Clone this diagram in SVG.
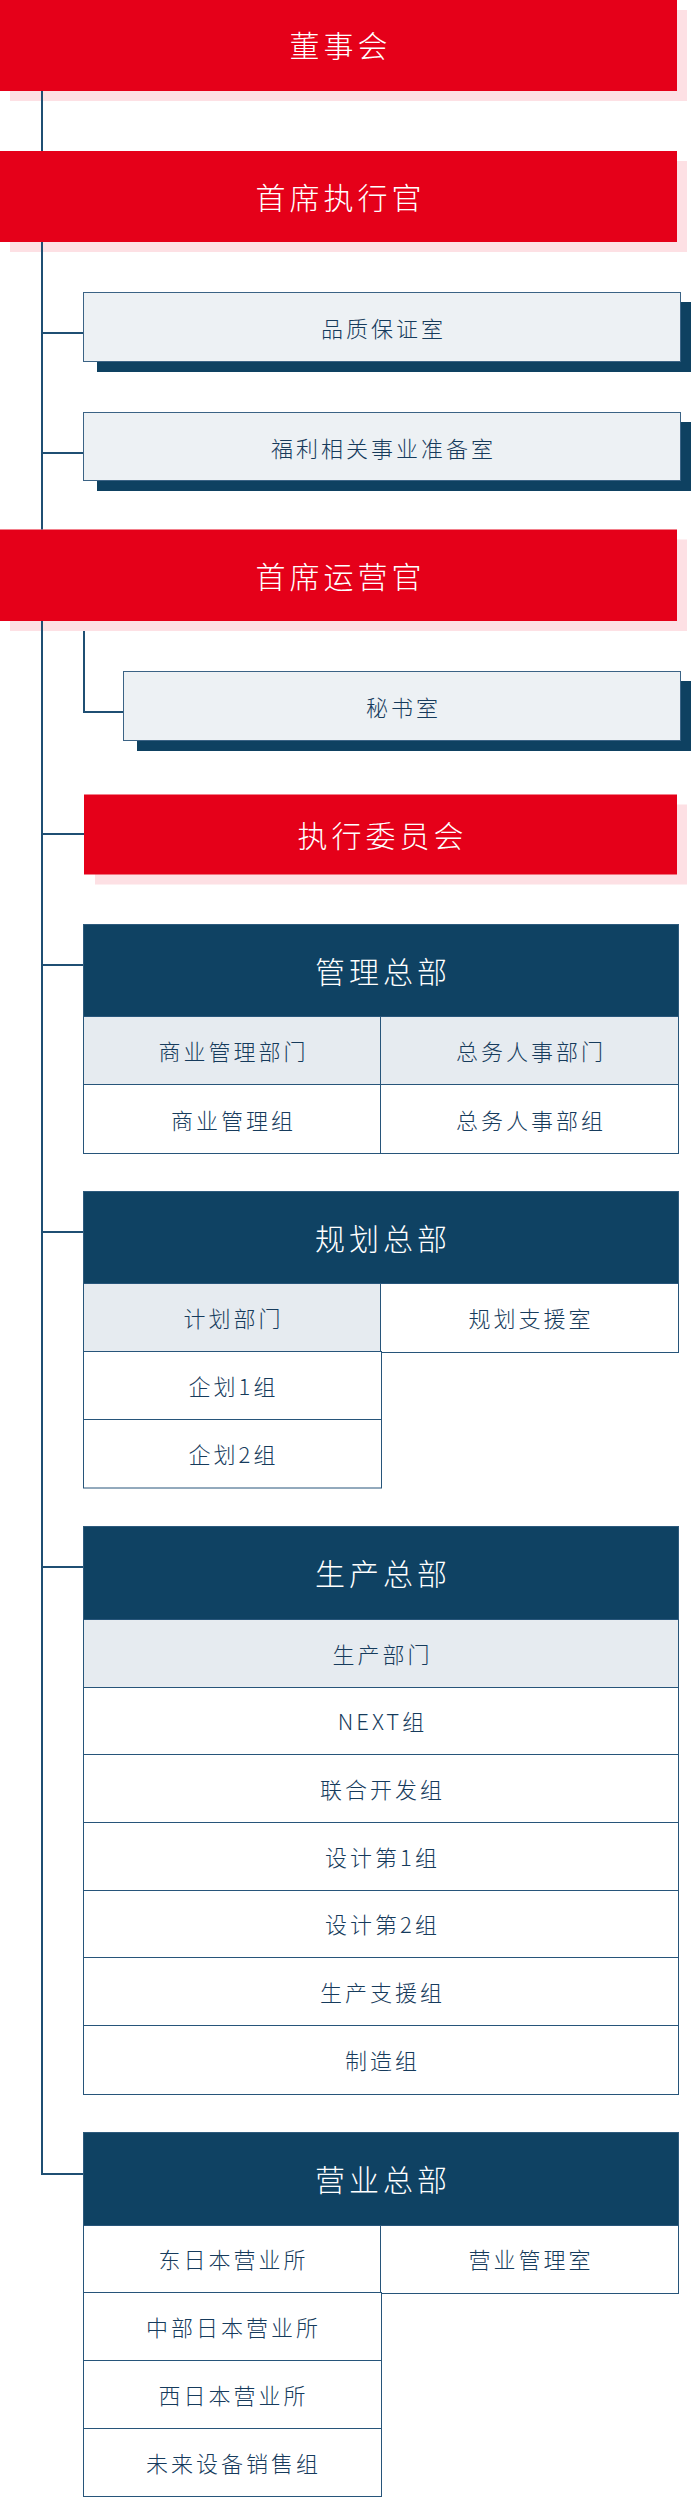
<svg xmlns="http://www.w3.org/2000/svg" width="700" height="2510" viewBox="0 0 700 2510">
<style>
.red{fill:#e50019}
.pink{fill:#fde0e4}
.gray{fill:#edf1f4;stroke:#3b6385;stroke-width:1}
.dk{fill:#0e4161}
.hd{fill:#0f4263;stroke:#2d5a7c;stroke-width:1}
.sub{fill:#e6ebf0;stroke:#27557a;stroke-width:1}
.cell{fill:#ffffff;stroke:#27557a;stroke-width:1}
.t{font-family:"Noto Sans CJK SC","Noto Sans",sans-serif;text-anchor:middle;dominant-baseline:central;font-weight:300}
.big{font-size:30px;letter-spacing:4px;fill:#ffffff}
.sm{font-size:22px;letter-spacing:3px;fill:#163b5c}
.ln{stroke:#1f4f73;stroke-width:2;fill:none}
</style>
<rect width="700" height="2510" fill="#ffffff"/>

<g id="board">
<rect class="pink" x="10" y="10" width="677" height="91"/>
<rect class="red" x="0" y="0" width="677" height="91"/>
<text class="t big" x="340.5" y="44">董事会</text>
</g>

<g id="ceo">
<rect class="pink" x="10" y="161" width="677" height="91"/>
<rect class="red" x="0" y="151" width="677" height="91"/>
<text class="t big" x="340.5" y="195.5">首席执行官</text>
</g>

<g id="qa">
<rect class="dk" x="97" y="302" width="594" height="70"/>
<rect class="gray" x="83.5" y="292.5" width="597" height="69"/>
<text class="t sm" x="383.5" y="327">品质保证室</text>
</g>

<g id="welfare">
<rect class="dk" x="97" y="422" width="594" height="69"/>
<rect class="gray" x="83.5" y="412.5" width="597" height="68"/>
<text class="t sm" x="383.5" y="446.5">福利相关事业准备室</text>
</g>

<g id="coo">
<rect class="pink" x="10" y="539.5" width="677" height="91.5"/>
<rect class="red" x="0" y="529.5" width="677" height="91.5"/>
<text class="t big" x="340.5" y="574.5">首席运营官</text>
</g>

<g id="secretary">
<rect class="dk" x="137" y="681" width="554" height="70"/>
<rect class="gray" x="123.5" y="671.5" width="557" height="69"/>
<text class="t sm" x="403.5" y="705.5">秘书室</text>
</g>

<g id="exec-committee">
<rect class="pink" x="95" y="804.5" width="592" height="80"/>
<rect class="red" x="84" y="794.5" width="593" height="80"/>
<text class="t big" x="382.5" y="833.5">执行委员会</text>
</g>

<g id="admin-hq">
<rect class="hd" x="83.5" y="924.5" width="595" height="92"/>
<text class="t big" x="383" y="969.5">管理总部</text>
<rect class="sub" x="83.5" y="1016.5" width="297" height="68"/>
<rect class="sub" x="380.5" y="1016.5" width="298" height="68"/>
<rect class="cell" x="83.5" y="1084.5" width="297" height="69"/>
<rect class="cell" x="380.5" y="1084.5" width="298" height="69"/>
<text class="t sm" x="233.5" y="1050">商业管理部门</text>
<text class="t sm" x="531" y="1050">总务人事部门</text>
<text class="t sm" x="233.5" y="1118.5">商业管理组</text>
<text class="t sm" x="531" y="1118.5">总务人事部组</text>
</g>

<g id="planning-hq">
<rect class="hd" x="83.5" y="1191.5" width="595" height="92"/>
<text class="t big" x="383" y="1236.5">规划总部</text>
<rect class="sub" x="83.5" y="1283.5" width="297" height="68"/>
<rect class="cell" x="380.5" y="1283.5" width="298" height="69"/>
<rect class="cell" x="83.5" y="1351.5" width="298" height="68"/>
<rect class="cell" x="83.5" y="1419.5" width="298" height="68.5"/>
<text class="t sm" x="233.5" y="1317">计划部门</text>
<text class="t sm" x="531" y="1317">规划支援室</text>
<text class="t sm" x="233.5" y="1385">企划1组</text>
<text class="t sm" x="233.5" y="1453">企划2组</text>
</g>

<g id="production-hq">
<rect class="hd" x="83.5" y="1526.5" width="595" height="93"/>
<text class="t big" x="383" y="1571.5">生产总部</text>
<rect class="sub" x="83.5" y="1619.5" width="595" height="68"/>
<rect class="cell" x="83.5" y="1687.5" width="595" height="67"/>
<rect class="cell" x="83.5" y="1754.5" width="595" height="68"/>
<rect class="cell" x="83.5" y="1822.5" width="595" height="68"/>
<rect class="cell" x="83.5" y="1890.5" width="595" height="67"/>
<rect class="cell" x="83.5" y="1957.5" width="595" height="68"/>
<rect class="cell" x="83.5" y="2025.5" width="595" height="69"/>
<text class="t sm" x="382.5" y="1652.5">生产部门</text>
<text class="t sm" x="382.5" y="1720">NEXT组</text>
<text class="t sm" x="382.5" y="1787.5">联合开发组</text>
<text class="t sm" x="382.5" y="1855.5">设计第1组</text>
<text class="t sm" x="382.5" y="1923">设计第2组</text>
<text class="t sm" x="382.5" y="1990.5">生产支援组</text>
<text class="t sm" x="382.5" y="2059">制造组</text>
</g>

<g id="sales-hq">
<rect class="hd" x="83.5" y="2132.5" width="595" height="93"/>
<text class="t big" x="383" y="2177.5">营业总部</text>
<rect class="cell" x="83.5" y="2225.5" width="297" height="67"/>
<rect class="cell" x="380.5" y="2225.5" width="298" height="68"/>
<rect class="cell" x="83.5" y="2292.5" width="298" height="68"/>
<rect class="cell" x="83.5" y="2360.5" width="298" height="68"/>
<rect class="cell" x="83.5" y="2428.5" width="298" height="68"/>
<text class="t sm" x="233.5" y="2258">东日本营业所</text>
<text class="t sm" x="531" y="2258">营业管理室</text>
<text class="t sm" x="233.5" y="2325.5">中部日本营业所</text>
<text class="t sm" x="233.5" y="2393.5">西日本营业所</text>
<text class="t sm" x="233.5" y="2461.5">未来设备销售组</text>
</g>

<g id="connectors">
<path class="ln" d="M42 91V151"/>
<path class="ln" d="M42 242V529.5"/>
<path class="ln" d="M42 621V2174H83"/>
<path class="ln" d="M42 333H83"/>
<path class="ln" d="M42 453H83"/>
<path class="ln" d="M84 631V712H123"/>
<path class="ln" d="M42 834H84"/>
<path class="ln" d="M42 965H83"/>
<path class="ln" d="M42 1232H83"/>
<path class="ln" d="M42 1567H83"/>
</g>
</svg>
